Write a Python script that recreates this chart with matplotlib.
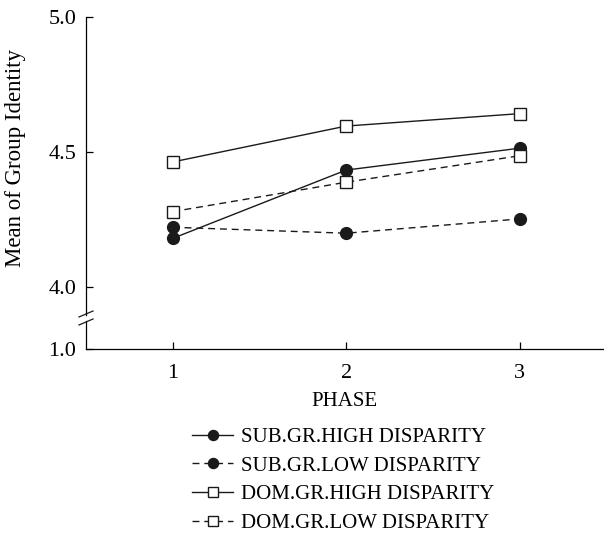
import matplotlib
matplotlib.use("Agg")
import matplotlib.pyplot as plt

plt.rcParams["font.family"] = "serif"
plt.rcParams["font.serif"] = ["Liberation Serif", "Times New Roman", "DejaVu Serif"]

# ── data ──────────────────────────────────────────────────────────────────────
phases = [1, 2, 3]
sub_high = [4.18, 4.433, 4.514]
sub_low = [4.221, 4.199, 4.252]
dom_high = [4.463, 4.596, 4.642]
dom_low = [4.279, 4.388, 4.486]

labels = ["SUB.GR.HIGH DISPARITY", "SUB.GR.LOW DISPARITY",
          "DOM.GR.HIGH DISPARITY", "DOM.GR.LOW DISPARITY"]
yticks_top = [4.0, 4.5, 5.0]
ytick_bottom = [1.0]

W, H = 604, 533
fig = plt.figure(figsize=(W / 100, H / 100), dpi=100)

def fig_box(x0, y0, x1, y1):
    # pixel box (top-left origin) -> figure fraction rect
    return [x0 / W, 1 - y1 / H, (x1 - x0) / W, (y1 - y0) / H]

# upper panel holds the data (4.0–5.0), lower stub only carries 1.0 + x axis
ax = fig.add_axes(fig_box(86, 17, 603, 315))
axb = fig.add_axes(fig_box(86, 321, 603, 349), sharex=ax)

dash = (0, (5, 3.5))
styles = [
    (sub_high, "-", "o", "#1a1a1a"),
    (sub_low, dash, "o", "#1a1a1a"),
    (dom_high, "-", "s", "white"),
    (dom_low, dash, "s", "white"),
]
for (vals, ls, mk, fc), lab in zip(styles, labels):
    ax.plot(phases, vals, linestyle=ls, marker=mk, color="#1a1a1a", lw=1.0,
            ms=8.5 if mk == "o" else 9, mfc=fc, mec="#1a1a1a", mew=1.0, label=lab)

FS = 15
ax.set_xlim(0.5, 3.48)
ax.set_ylim(3.896, 5.0)
ax.set_yticks(yticks_top)
ax.set_yticklabels([f"{v:.1f}" for v in yticks_top])
for s in ["top", "right", "bottom"]:
    ax.spines[s].set_visible(False)
ax.tick_params(axis="x", bottom=False, labelbottom=False)
ax.tick_params(axis="y", direction="in", length=5, width=0.9, labelsize=FS + 1, pad=7)
ax.spines["left"].set_linewidth(0.9)
ax.set_ylabel("Mean of Group Identity", fontsize=16.5)
ax.yaxis.set_label_coords(-0.116, 0.528)

axb.set_ylim(1.0, 1.1)
axb.set_yticks(ytick_bottom)
axb.set_yticklabels([f"{v:.1f}" for v in ytick_bottom])
axb.set_xticks(phases)
for s in ["top", "right"]:
    axb.spines[s].set_visible(False)
for s in ["left", "bottom"]:
    axb.spines[s].set_linewidth(0.9)
axb.tick_params(axis="y", direction="in", length=5, width=0.9, labelsize=FS + 1, pad=7)
axb.tick_params(axis="x", direction="in", length=5, width=0.9, labelsize=FS + 1, pad=11)
axb.set_xlabel("PHASE", fontsize=FS, labelpad=6)
axb.patch.set_alpha(0)

# break marks on the y axis
for yb in (314, 322):
    fig.add_artist(plt.Line2D([79 / W, 93 / W], [1 - (yb + 3) / H, 1 - (yb - 3) / H],
                              color="#1a1a1a", lw=0.9))

handles, labs = ax.get_legend_handles_labels()
fig.legend(handles, labs, loc="upper left", bbox_to_anchor=(184 / W, 1 - 419 / H),
           frameon=False, fontsize=FS, handlelength=1.95, handletextpad=0.38,
           labelspacing=0.44, borderaxespad=0, markerscale=0.85)

fig.savefig("out.png", dpi=100)
